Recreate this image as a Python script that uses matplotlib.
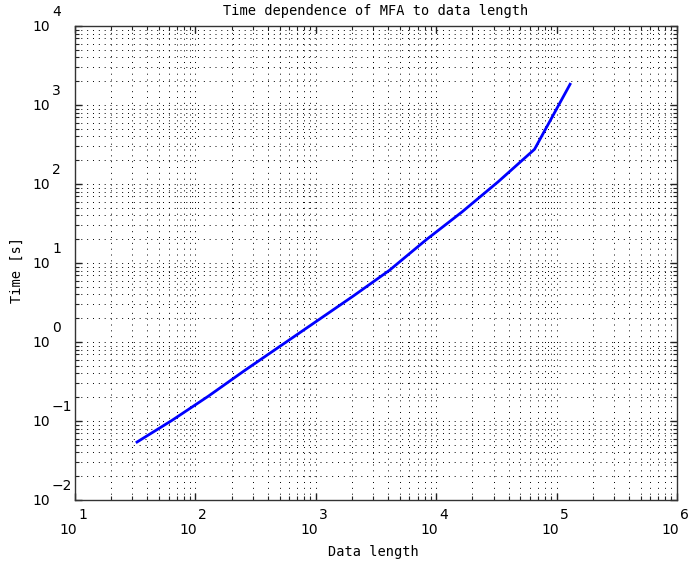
import matplotlib
matplotlib.use("Agg")
from matplotlib import pyplot as plt
import numpy as np

# Datos
longitudes = [32, 64, 128, 256, 512, 1024, 2048, 4096, 8192, 16384, 32768, 65536, 131072]
tiempos = [0.053, 0.102, 0.206, 0.435, 0.897, 1.85, 3.82, 8.1, 19.5, 44.3, 107, 275, 1897]

exp_x = [1, 2, 3, 4, 5, 6]
exp_y = [-2, -1, 0, 1, 2, 3, 4]

titulo = "Time dependence of MFA to data length"
etiqueta_x = "Data length"
etiqueta_y = "Time [s]"

fuente_mono = "DejaVu Sans Mono"
fuente_ticks = "DejaVu Sans"


def exponente(e):
    return str(e).replace("-", "\u2212")


fig = plt.figure(figsize=(6.88, 5.67), dpi=100)
ax = fig.add_axes([75 / 688, 67 / 567, 602 / 688, 474 / 567])

ax.loglog(longitudes, tiempos, color="#0000ff", linewidth=2.0, solid_capstyle="butt")

ax.set_xlim(10.0 ** exp_x[0], 10.0 ** exp_x[-1])
ax.set_ylim(10.0 ** exp_y[0], 10.0 ** exp_y[-1])

# Rejilla punteada (mayor y menor)
ax.grid(True, which="both", color="black", linestyle=(0, (1, 5)), linewidth=0.7)

ax.tick_params(which="both", direction="in", top=True, right=True, colors="#222222")
ax.tick_params(which="major", length=5, width=1)
ax.tick_params(which="minor", length=3, width=0.8)
for s in ax.spines.values():
    s.set_linewidth(1.0)
    s.set_color("#333333")

# Etiquetas de ticks estilo 10^n (exponente arriba a la derecha)
ax.set_xticks([10.0 ** e for e in exp_x])
ax.set_yticks([10.0 ** e for e in exp_y])
ax.set_xticklabels([])
ax.set_yticklabels([])

tam = 10
for e in exp_y:
    ax.annotate("10", xy=(0, 10.0 ** e), xycoords=("axes fraction", "data"),
                xytext=(-25, -1), textcoords="offset pixels", ha="right", va="center",
                fontsize=tam, family=fuente_ticks, annotation_clip=False)
    ax.annotate(exponente(e), xy=(0, 10.0 ** e), xycoords=("axes fraction", "data"),
                xytext=(-23, 14), textcoords="offset pixels", ha="left", va="center",
                fontsize=tam, family=fuente_ticks, annotation_clip=False)

for e in exp_x:
    ax.annotate("10", xy=(10.0 ** e, 0), xycoords=("data", "axes fraction"),
                xytext=(2, -30), textcoords="offset pixels", ha="right", va="center",
                fontsize=tam, family=fuente_ticks, annotation_clip=False)
    ax.annotate(exponente(e), xy=(10.0 ** e, 0), xycoords=("data", "axes fraction"),
                xytext=(3, -15), textcoords="offset pixels", ha="left", va="center",
                fontsize=tam, family=fuente_ticks, annotation_clip=False)

fig.text(0.5 * (75 + 677) / 688, 1 - 11 / 567, titulo, ha="center", va="center",
         fontsize=9.8, family=fuente_mono)
fig.text(373 / 688, 1 - 552 / 567, etiqueta_x, ha="center", va="center",
         fontsize=9.8, family=fuente_mono)
fig.text(17 / 688, 1 - 270 / 567, etiqueta_y, ha="center", va="center", rotation=90,
         fontsize=9.8, family=fuente_mono)

fig.savefig("out.png", dpi=100)
